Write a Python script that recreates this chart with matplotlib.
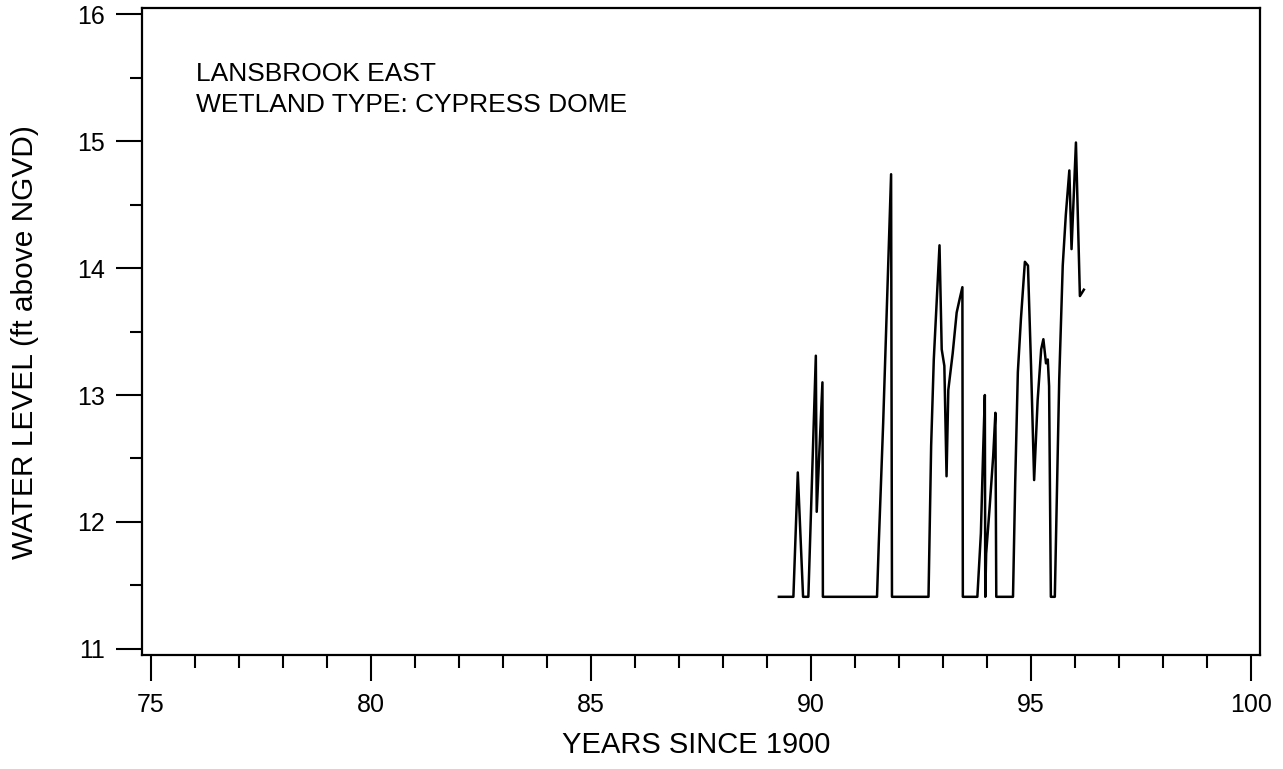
import matplotlib
matplotlib.use("Agg")
import matplotlib.pyplot as plt
from matplotlib.ticker import MultipleLocator

plt.rcParams['font.family'] = ['Liberation Sans', 'DejaVu Sans']

# Years since 1900
years = [89.27, 89.60, 89.70, 89.82, 89.94, 90.11, 90.13, 90.26, 90.27,
         91.50, 91.54, 91.64, 91.82, 91.84,
         92.67, 92.73, 92.79, 92.92, 92.97, 93.03, 93.08,
         93.12, 93.22, 93.31, 93.38, 93.44, 93.45,
         93.78, 93.86, 93.91, 93.95, 93.96, 93.98, 94.06, 94.14, 94.19, 94.21,
         94.59, 94.64, 94.70, 94.77, 94.86, 94.93, 95.00, 95.07,
         95.15, 95.23, 95.28, 95.34, 95.38, 95.41, 95.45, 95.54,
         95.60, 95.64, 95.72, 95.79, 95.87, 95.92, 96.02, 96.11, 96.20]
# Water level (ft above NGVD)
level = [11.41, 11.41, 12.39, 11.41, 11.41, 13.31, 12.08, 13.10, 11.41,
         11.41, 11.83, 12.78, 14.74, 11.41,
         11.41, 12.60, 13.28, 14.18, 13.36, 13.23, 12.36,
         13.04, 13.33, 13.65, 13.76, 13.85, 11.41,
         11.41, 11.91, 12.54, 13.00, 11.41, 11.75, 12.12, 12.52, 12.86, 11.41,
         11.41, 12.31, 13.18, 13.60, 14.05, 14.02, 13.23, 12.33,
         12.96, 13.36, 13.44, 13.25, 13.28, 13.07, 11.41, 11.41,
         12.44, 13.12, 14.02, 14.42, 14.77, 14.15, 14.99, 13.78, 13.83]

site_text = ["LANSBROOK EAST", "WETLAND TYPE: CYPRESS DOME"]
x_title = "YEARS SINCE 1900"
y_title = "WATER LEVEL (ft above NGVD)"

fig = plt.figure(figsize=(12.83, 7.69), dpi=100)
ax = fig.add_axes([0.1107, 0.148, 0.8713, 0.8416])

ax.plot(years, level, color='black', lw=1.8)

ax.set_xlim(74.8, 100.2)
ax.set_ylim(10.95, 16.05)
ax.xaxis.set_major_locator(MultipleLocator(5))
ax.xaxis.set_minor_locator(MultipleLocator(1))
ax.yaxis.set_major_locator(MultipleLocator(1))
ax.yaxis.set_minor_locator(MultipleLocator(0.5))

ax.tick_params(which='major', direction='out', length=19, width=1.5,
               labelsize=18, pad=8)
ax.tick_params(which='minor', direction='out', length=9, width=1.5)
for s in ax.spines.values():
    s.set_linewidth(1.6)

fig.text(696 / 1283, 1 - 745 / 769, x_title, fontsize=21,
         ha='center', va='center')
fig.text(25 / 1283, 1 - 342 / 769, y_title, fontsize=21.5, rotation=90,
         ha='center', va='center')

fig.text(196 / 1283, 1 - 80.7 / 769, site_text[0], fontsize=19,
         ha='left', va='baseline')
fig.text(196 / 1283, 1 - 111.7 / 769, site_text[1], fontsize=19,
         ha='left', va='baseline')

fig.savefig("out.png", dpi=100)
